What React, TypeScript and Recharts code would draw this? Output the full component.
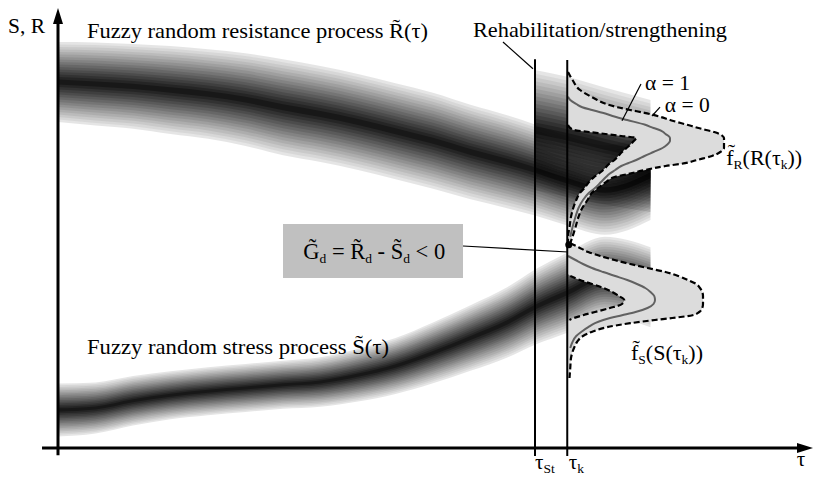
import React from 'react';
import {
  ComposedChart,
  Area,
  Line,
  XAxis,
  YAxis,
  ReferenceLine,
  ReferenceDot,
  ReferenceArea,
} from 'recharts';

const WIDTH = 815;
const HEIGHT = 488;
const MARGIN = { top: 8, right: 7, bottom: 32, left: 43 };
const TAU_DOMAIN: [number, number] = [-2, 100];
const VALUE_DOMAIN: [number, number] = [-1, 55];
const FONT = '"Liberation Serif", "Times New Roman", Times, serif';

// ---------- fuzzy random processes (bands) ----------
const bandTau = [0, 5, 10, 15, 20, 25, 30, 35, 40, 45, 50, 55, 60, 63.6, 67.9, 72.9, 79];
const resistanceCenter = [45.75, 45.5, 45.2, 44.75, 44.25, 43.55, 42.6, 41.75, 40.75, 39.6, 38.4, 37.0, 35.75, 34.75, 33.4, 32.25, 34.1];
const resistanceSpread = [5.0, 5.2, 5.3, 5.5, 5.6, 5.8, 6.0, 6.0, 6.0, 6.0, 6.0, 5.9, 5.8, 5.7, 5.6, 5.6, 5.6];
const stressCenter = [4.75, 5.0, 5.9, 6.6, 7.1, 7.5, 7.9, 8.25, 9.1, 10.25, 11.9, 13.75, 15.75, 17.6, 19.4, 21.4, 20.1];
const stressSpread = [3.3, 3.2, 3.1, 3.0, 3.0, 3.0, 3.0, 3.1, 3.3, 3.5, 3.8, 4.1, 4.4, 4.7, 5.0, 5.0, 5.0];
const rehabTau = [63.6, 67.9, 72.9, 79];
const rehabCenter = [39.75, 38.9, 37.75, 36.5];
const rehabSpread = [7.5, 7.5, 7.3, 7.0];

// ---------- time marks ----------
const TAU_ST = 63.6;
const TAU_K = 67.9;

// ---------- fuzzy density f_R at tau_k (offsets from tau_k) ----------
const fRValue = [47.0, 46.0, 44.75, 43.9, 43.5, 43.0, 42.6, 42.25, 41.9, 41.4, 41.0, 40.4, 40.0, 39.75, 39.5, 39.25, 39.0, 38.75, 38.4, 37.9, 37.5, 37.0, 36.5, 36.0, 35.6, 35.25, 34.75, 34.25, 33.9, 33.25, 32.5, 31.9, 31.0, 30.0, 28.9, 27.6, 26.4, 25.6];
const fROuter = [0.1, 0.7, 1.7, 3.2, 4.0, 5.2, 6.7, 8.4, 10.3, 12.4, 13.7, 16.0, 17.5, 18.5, 19.6, 20.3, 20.7, 20.9, 20.9, 20.9, 20.9, 20.4, 19.3, 17.3, 15.7, 13.1, 10.4, 8.1, 6.4, 5.2, 4.1, 3.3, 2.7, 2.0, 1.5, 1.1, 0.7, 0.4];
const fRMode = [null, null, null, 0.1, 0.4, 1.2, 2.0, 3.3, 4.7, 6.4, 8.0, 10.4, 11.5, 12.3, 12.8, 13.1, 13.5, 13.7, 13.7, 13.3, 12.7, 11.5, 10.3, 9.2, 8.1, 7.2, 6.4, 5.6, 5.2, 4.5, 3.7, 2.9, 2.1, 1.5, 1.1, 0.7, 0.4, null];
const fRInner = [null, null, null, null, null, null, null, null, null, null, null, 0.1, 0.4, 0.9, 2.9, 5.1, 7.2, 9.2, 8.9, 8.4, 7.9, 7.3, 6.8, 6.3, 5.7, 5.3, 4.8, 4.1, 3.6, 2.9, 2.3, 1.7, 1.2, 0.8, 0.5, 0.3, 0.1, 0.1];

// ---------- fuzzy density f_S at tau_k ----------
const fSValue = [25.6, 25.1, 24.5, 24.0, 23.5, 23.0, 22.5, 22.0, 21.5, 21.0, 20.5, 20.0, 19.5, 19.0, 18.5, 18.0, 17.5, 17.0, 16.6, 16.25, 16.0, 15.6, 15.1, 14.6, 14.0, 13.25, 12.5, 11.25, 10.0, 8.75];
const fSOuter = [0.4, 1.5, 2.8, 4.4, 6.3, 8.4, 10.7, 13.1, 14.8, 16.1, 17.2, 17.7, 18.0, 18.1, 18.1, 18.1, 18.0, 17.6, 16.7, 14.0, 11.7, 8.4, 5.3, 3.5, 2.1, 1.3, 0.9, 0.5, 0.4, 0.3];
const fSMode = [null, null, null, 0.1, 1.1, 2.1, 3.3, 4.8, 6.4, 8.0, 9.3, 10.4, 11.1, 11.6, 11.7, 11.5, 10.7, 9.1, 7.3, 5.7, 4.8, 3.7, 2.8, 2.0, 1.2, 0.7, 0.4, null, null, null];
const fSInner = [null, null, null, null, null, null, null, null, 0.4, 1.7, 3.3, 4.8, 6.0, 6.9, 7.6, 7.3, 5.7, 3.7, 2.1, 0.9, 0.3, null, null, null, null, null, null, null, null, null];

// ---------- leader lines [tau1, value1, tau2, value2] ----------
const leaders = [
  [59.33, 50.75, 63.33, 47.4],
  [77.73, 45.5, 75.2, 40.9],
  [80.27, 42.6, 79.2, 41.5],
  [54.0, 25.25, 68.0, 24.5],
];
const verticals = [
  [TAU_ST, 48.6, TAU_ST, -1.0],
  [TAU_K, 48.5, TAU_K, -1.0],
];
const axisValueLine = [0, -0.9, 0, 55];
const axisTimeLine = [-2.13, 0, 100.67, 0];
const formulaBox = [30, 21.25, 54, 28];
const contactPoint = [68.1, 25.4];

// ---------- texts ----------
const TXT_SR = 'S, R';
const TXT_RES = 'Fuzzy random resistance process R\u0303(\u03c4)';
const TXT_STRESS = 'Fuzzy random stress process S\u0303(\u03c4)';
const TXT_REHAB = 'Rehabilitation/strengthening';
const TXT_A1 = '\u03b1 = 1';
const TXT_A0 = '\u03b1 = 0';
const TAU = '\u03c4';

// label anchors [tau, value]
const posSR = [-6.67, 51.9];
const posRes = [3.87, 51.25];
const posRehab = [55.33, 51.4];
const posStress = [3.87, 11.75];
const posA1 = [78.27, 44.75];
const posA0 = [80.9, 42.0];
const posFR = [89.1, 35.4];
const posFS = [76.4, 11.0];
const posTauSt = [63.6, -2.6];
const posTauK = [68.1, -2.6];
const posTau = [98.5, -2.3];
const posFormula = [32.7, 23.6];

// ---------- derived tables ----------
const LAYERS = 16;
const EDGE_DARK = 0.1;
const CORE_DARK = 0.9;
// per-layer opacities giving a linear grey ramp from the edge to the core
const layerOpacity = Array.from({ length: LAYERS }, (_, k) => {
  const target = (i: number) => EDGE_DARK + ((CORE_DARK - EDGE_DARK) * i) / (LAYERS - 1);
  if (k === 0) return target(0);
  return 1 - (1 - target(k)) / (1 - target(k - 1));
});

const bandLayers = (tau: number[], center: number[], spread: number[]) =>
  Array.from({ length: LAYERS }, (_, i) => {
    const f = 1 - i / LAYERS;
    return {
      opacity: layerOpacity[i],
      data: tau.map((t, j) => ({ t, r: [center[j] - spread[j] * f, center[j] + spread[j] * f] })),
    };
  });

const allBands = [
  ...bandLayers(bandTau, resistanceCenter, resistanceSpread),
  ...bandLayers(bandTau, stressCenter, stressSpread),
  ...bandLayers(rehabTau, rehabCenter, rehabSpread),
];

const fillRows = (values: number[], outer: number[], inner: (number | null)[]) =>
  values.map((v, i) => ({ v, range: [TAU_K + (inner[i] ?? 0), TAU_K + outer[i]] }));
const curveRows = (values: number[], offs: (number | null)[]) =>
  values
    .map((v, i) => (offs[i] == null ? null : { v, d: TAU_K + (offs[i] as number) }))
    .filter(Boolean) as { v: number; d: number }[];

const fRFill = fillRows(fRValue, fROuter, fRInner);
const fSFill = fillRows(fSValue, fSOuter, fSInner);

const ArrowShape = (props: any) => {
  const { x1, y1, x2, y2 } = props;
  const dx = x2 - x1;
  const dy = y2 - y1;
  const len = Math.hypot(dx, dy) || 1;
  const ux = dx / len;
  const uy = dy / len;
  const head = 16;
  const half = 5;
  const bx = x2 - ux * head;
  const by = y2 - uy * head;
  return (
    <g>
      <line x1={x1} y1={y1} x2={bx + ux * 2} y2={by + uy * 2} stroke="#000" strokeWidth={3} />
      <polygon
        points={`${x2},${y2} ${bx - uy * half},${by + ux * half} ${bx + uy * half},${by - ux * half}`}
        fill="#000"
      />
    </g>
  );
};

const textProps = { fontFamily: FONT, fill: '#000' };

const makeText = (content: React.ReactNode, size = 21, length?: number) => (p: any) => (
  <text
    x={p.cx}
    y={p.cy}
    fontSize={size}
    {...textProps}
    textLength={length}
    lengthAdjust={length ? 'spacingAndGlyphs' : undefined}
  >
    {content}
  </text>
);

const Sub = ({ children }: { children: React.ReactNode }) => (
  <tspan fontSize={13.5} dy={4}>
    {children}
  </tspan>
);
const Back = ({ children }: { children: React.ReactNode }) => <tspan dy={-4}>{children}</tspan>;

function BandChart() {
  return (
    <ComposedChart width={WIDTH} height={HEIGHT} margin={MARGIN}>
      <XAxis type="number" dataKey="t" domain={TAU_DOMAIN} hide allowDataOverflow />
      <YAxis type="number" domain={VALUE_DOMAIN} hide allowDataOverflow />
      {allBands.map((layer, i) => (
        <Area
          key={`band-${i}`}
          data={layer.data}
          dataKey="r"
          type="monotone"
          stroke="none"
          fill="#000"
          fillOpacity={layer.opacity}
          dot={false}
          activeDot={false}
          isAnimationActive={false}
        />
      ))}
    </ComposedChart>
  );
}

function OverlayChart() {
  const seg = (s: number[]) => [
    { x: s[0], y: s[1] },
    { x: s[2], y: s[3] },
  ];
  return (
    <ComposedChart layout="vertical" width={WIDTH} height={HEIGHT} margin={MARGIN}>
      <XAxis type="number" domain={TAU_DOMAIN} hide allowDataOverflow />
      <YAxis type="number" dataKey="v" domain={VALUE_DOMAIN} hide allowDataOverflow reversed />

      <ReferenceArea
        x1={formulaBox[0]}
        y1={formulaBox[1]}
        x2={formulaBox[2]}
        y2={formulaBox[3]}
        fill="#c0c0c0"
        fillOpacity={1}
        stroke="none"
        ifOverflow="visible"
      />

      <Area data={fRFill} dataKey="range" type="monotoneY" stroke="none" fill="#dcdcdc" fillOpacity={1} dot={false} activeDot={false} isAnimationActive={false} />
      <Area data={fSFill} dataKey="range" type="monotoneY" stroke="none" fill="#dcdcdc" fillOpacity={1} dot={false} activeDot={false} isAnimationActive={false} />

      <Line data={curveRows(fRValue, fRMode)} dataKey="d" type="monotoneY" stroke="#616161" strokeWidth={2} dot={false} activeDot={false} isAnimationActive={false} />
      <Line data={curveRows(fSValue, fSMode)} dataKey="d" type="monotoneY" stroke="#616161" strokeWidth={2} dot={false} activeDot={false} isAnimationActive={false} />
      <Line data={curveRows(fRValue, fROuter)} dataKey="d" type="monotoneY" stroke="#000" strokeWidth={2.2} strokeDasharray="6 3" dot={false} activeDot={false} isAnimationActive={false} />
      <Line data={curveRows(fRValue, fRInner)} dataKey="d" type="monotoneY" stroke="#000" strokeWidth={2.2} strokeDasharray="6 3" dot={false} activeDot={false} isAnimationActive={false} />
      <Line data={curveRows(fSValue, fSOuter)} dataKey="d" type="monotoneY" stroke="#000" strokeWidth={2.2} strokeDasharray="6 3" dot={false} activeDot={false} isAnimationActive={false} />
      <Line data={curveRows(fSValue, fSInner)} dataKey="d" type="monotoneY" stroke="#000" strokeWidth={2.2} strokeDasharray="6 3" dot={false} activeDot={false} isAnimationActive={false} />

      {verticals.map((s, i) => (
        <ReferenceLine key={`v-${i}`} segment={seg(s)} stroke="#000" strokeWidth={2} ifOverflow="visible" />
      ))}
      {leaders.map((s, i) => (
        <ReferenceLine key={`l-${i}`} segment={seg(s)} stroke="#000" strokeWidth={1.2} ifOverflow="visible" />
      ))}
      <ReferenceLine segment={seg(axisValueLine)} ifOverflow="visible" shape={ArrowShape} />
      <ReferenceLine segment={seg(axisTimeLine)} ifOverflow="visible" shape={ArrowShape} />

      <ReferenceDot x={contactPoint[0]} y={contactPoint[1]} r={3.5} fill="#000" stroke="none" ifOverflow="visible" />

      <ReferenceDot x={posSR[0]} y={posSR[1]} r={0} ifOverflow="visible" shape={makeText(TXT_SR, 21, 37)} />
      <ReferenceDot x={posRes[0]} y={posRes[1]} r={0} ifOverflow="visible" shape={makeText(TXT_RES, 21, 341)} />
      <ReferenceDot x={posRehab[0]} y={posRehab[1]} r={0} ifOverflow="visible" shape={makeText(TXT_REHAB, 21, 254)} />
      <ReferenceDot x={posStress[0]} y={posStress[1]} r={0} ifOverflow="visible" shape={makeText(TXT_STRESS, 21, 302)} />
      <ReferenceDot x={posA1[0]} y={posA1[1]} r={0} ifOverflow="visible" shape={makeText(TXT_A1, 21.5)} />
      <ReferenceDot x={posA0[0]} y={posA0[1]} r={0} ifOverflow="visible" shape={makeText(TXT_A0, 21.5)} />
      <ReferenceDot
        x={posFR[0]}
        y={posFR[1]}
        r={0}
        ifOverflow="visible"
        shape={makeText(
          <>
            {'f\u0303'}
            <Sub>R</Sub>
            <Back>{`(R(${TAU}`}</Back>
            <Sub>k</Sub>
            <Back>))</Back>
          </>,
          22,
        )}
      />
      <ReferenceDot
        x={posFS[0]}
        y={posFS[1]}
        r={0}
        ifOverflow="visible"
        shape={makeText(
          <>
            {'f\u0303'}
            <Sub>S</Sub>
            <Back>{`(S(${TAU}`}</Back>
            <Sub>k</Sub>
            <Back>))</Back>
          </>,
          22,
        )}
      />
      <ReferenceDot
        x={posTauSt[0]}
        y={posTauSt[1]}
        r={0}
        ifOverflow="visible"
        shape={makeText(
          <>
            {TAU}
            <Sub>St</Sub>
          </>,
          21,
        )}
      />
      <ReferenceDot
        x={posTauK[0]}
        y={posTauK[1]}
        r={0}
        ifOverflow="visible"
        shape={makeText(
          <>
            {TAU}
            <Sub>k</Sub>
          </>,
          21,
        )}
      />
      <ReferenceDot x={posTau[0]} y={posTau[1]} r={0} ifOverflow="visible" shape={makeText(TAU, 21)} />
      <ReferenceDot
        x={posFormula[0]}
        y={posFormula[1]}
        r={0}
        ifOverflow="visible"
        shape={makeText(
          <>
            {'G\u0303'}
            <Sub>d</Sub>
            <Back>{' = R\u0303'}</Back>
            <Sub>d</Sub>
            <Back>{' - S\u0303'}</Back>
            <Sub>d</Sub>
            <Back>{' < 0'}</Back>
          </>,
          22.5,
        )}
      />
    </ComposedChart>
  );
}

export default function App() {
  return (
    <div style={{ position: 'absolute', left: 0, top: 0, width: WIDTH, height: HEIGHT, background: '#fff', overflow: 'hidden' }}>
      <div style={{ position: 'absolute', left: 0, top: 0 }}>
        <BandChart />
      </div>
      <div style={{ position: 'absolute', left: 0, top: 0 }}>
        <OverlayChart />
      </div>
    </div>
  );
}
